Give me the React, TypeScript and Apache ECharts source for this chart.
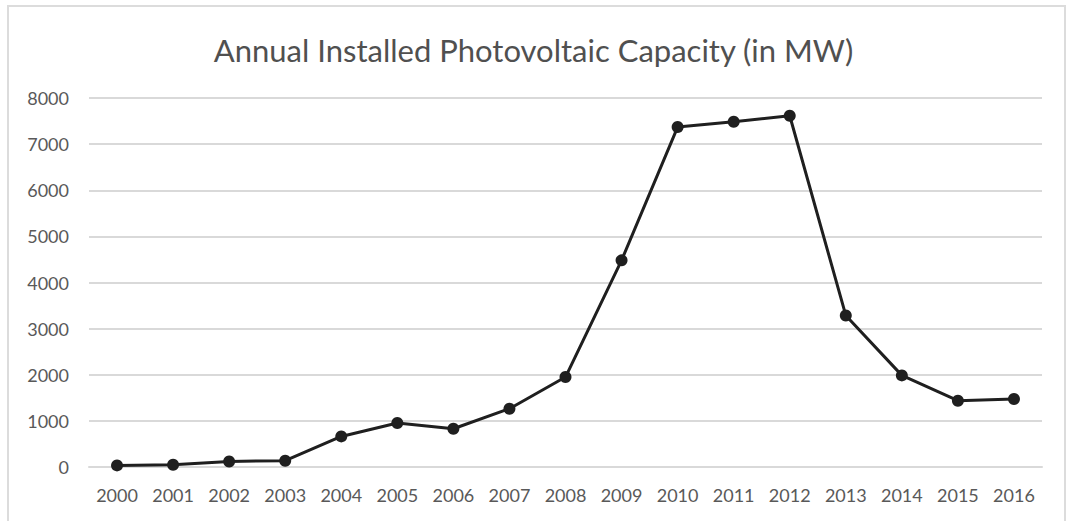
import React, { useEffect, useRef } from "react";
import * as echarts from "echarts";

const years = ["2000","2001","2002","2003","2004","2005","2006","2007","2008","2009","2010","2011","2012","2013","2014","2015","2016"];
const capacity = [35, 50, 120, 137, 663, 954, 830, 1264, 1950, 4480, 7370, 7485, 7615, 3286, 1986, 1437, 1474];
const title = "Annual Installed Photovoltaic Capacity (in MW)";

export default function App() {
  const ref = useRef<HTMLDivElement>(null);
  useEffect(() => {
    const chart = echarts.init(ref.current!, null, { renderer: "svg" });
    chart.setOption({
      animation: false,
      backgroundColor: "#ffffff",
      title: {
        text: title,
        left: "center",
        top: 29,
        textStyle: { fontFamily: "Lato", fontSize: 31, fontWeight: "normal", color: "#505050" },
      },
      graphic: [
        {
          type: "rect",
          shape: { x: 8, y: 6, width: 1057, height: 520 },
          style: { fill: "none", stroke: "#dcdcdc", lineWidth: 2 },
          silent: true,
        },
      ],
      grid: { left: 89, right: 25, top: 98, bottom: 54 },
      xAxis: {
        type: "category",
        data: years,
        boundaryGap: true,
        axisLine: { show: true, lineStyle: { color: "#d9d9d9", width: 2 } },
        axisTick: { show: false },
        axisLabel: { color: "#595959", fontFamily: "Lato", fontSize: 18, margin: 19 },
      },
      yAxis: {
        type: "value",
        min: 0,
        max: 8000,
        interval: 1000,
        axisLine: { show: false },
        axisTick: { show: false },
        axisLabel: {
          color: "#595959",
          fontFamily: "Lato",
          fontSize: 18,
          margin: 20,
          formatter: (v: number) => String(v),
        },
        splitLine: { lineStyle: { color: "#d9d9d9", width: 2 } },
      },
      series: [
        {
          type: "line",
          data: capacity,
          symbol: "circle",
          symbolSize: 12,
          itemStyle: { color: "#1f1f1f" },
          lineStyle: { color: "#1f1f1f", width: 3 },
        },
      ],
    });
    return () => chart.dispose();
  }, []);
  return (
    <div
      ref={ref}
      style={{ position: "absolute", left: 0, top: 0, width: 1067, height: 521 }}
    />
  );
}
